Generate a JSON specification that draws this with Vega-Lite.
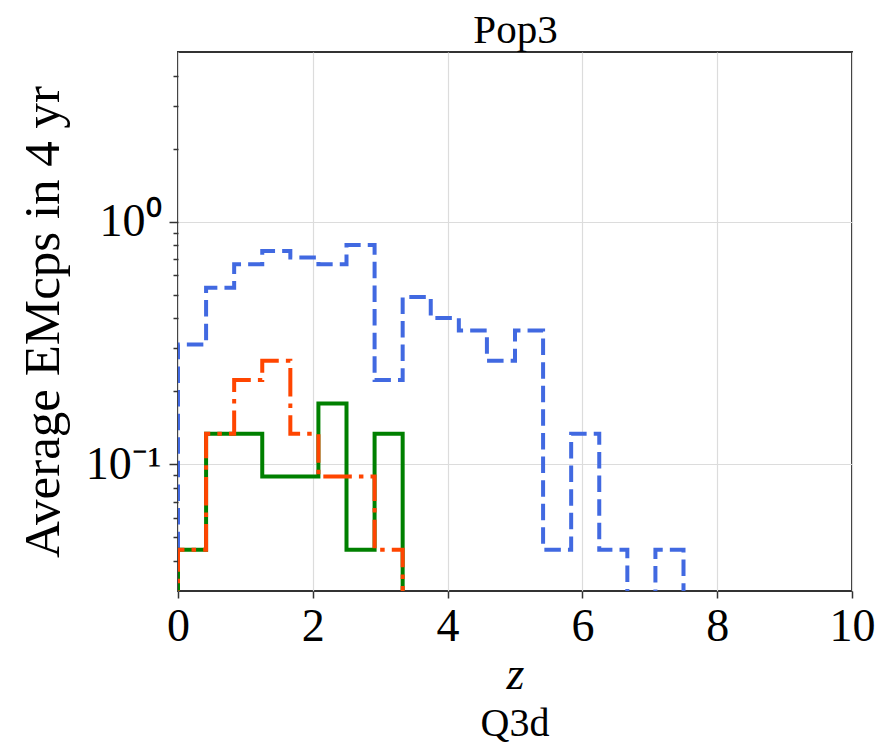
{
  "$schema": "https://vega.github.io/schema/vega-lite/v6.json",
  "width": 674,
  "height": 539,
  "autosize": {"type": "none"},
  "padding": {"left": 178, "top": 52, "right": 28, "bottom": 157},
  "background": "white",
  "title": {"text": "Q3d", "orient": "bottom", "fontSize": 40, "font": "Liberation Serif", "fontWeight": "normal", "color": "#000", "offset": 7},
  "datasets": {
    "hist": [
      {"series": "s1", "i": 0, "z": 0, "v": 0.001},
      {"series": "s1", "i": 1, "z": 0, "v": 0.3111},
      {"series": "s1", "i": 2, "z": 0.4167, "v": 0.5333},
      {"series": "s1", "i": 3, "z": 0.8333, "v": 0.6667},
      {"series": "s1", "i": 4, "z": 1.25, "v": 0.7556},
      {"series": "s1", "i": 5, "z": 1.6667, "v": 0.7111},
      {"series": "s1", "i": 6, "z": 2.0833, "v": 0.6667},
      {"series": "s1", "i": 7, "z": 2.5, "v": 0.8},
      {"series": "s1", "i": 8, "z": 2.9167, "v": 0.2222},
      {"series": "s1", "i": 9, "z": 3.3333, "v": 0.4889},
      {"series": "s1", "i": 10, "z": 3.75, "v": 0.4},
      {"series": "s1", "i": 11, "z": 4.1667, "v": 0.3556},
      {"series": "s1", "i": 12, "z": 4.5833, "v": 0.2667},
      {"series": "s1", "i": 13, "z": 5, "v": 0.3556},
      {"series": "s1", "i": 14, "z": 5.4167, "v": 0.0444},
      {"series": "s1", "i": 15, "z": 5.8333, "v": 0.1333},
      {"series": "s1", "i": 16, "z": 6.25, "v": 0.0444},
      {"series": "s1", "i": 17, "z": 6.6667, "v": 0.001},
      {"series": "s1", "i": 18, "z": 7.0833, "v": 0.0444},
      {"series": "s1", "i": 19, "z": 7.5, "v": 0.001},
      {"series": "s2", "i": 0, "z": 0, "v": 0.001},
      {"series": "s2", "i": 1, "z": 0, "v": 0.0444},
      {"series": "s2", "i": 2, "z": 0.4167, "v": 0.1333},
      {"series": "s2", "i": 3, "z": 0.8333, "v": 0.1333},
      {"series": "s2", "i": 4, "z": 1.25, "v": 0.0889},
      {"series": "s2", "i": 5, "z": 1.6667, "v": 0.0889},
      {"series": "s2", "i": 6, "z": 2.0833, "v": 0.1778},
      {"series": "s2", "i": 7, "z": 2.5, "v": 0.0444},
      {"series": "s2", "i": 8, "z": 2.9167, "v": 0.1333},
      {"series": "s2", "i": 9, "z": 3.3333, "v": 0.001},
      {"series": "s3", "i": 0, "z": 0, "v": 0.001},
      {"series": "s3", "i": 1, "z": 0, "v": 0.0444},
      {"series": "s3", "i": 2, "z": 0.4167, "v": 0.1333},
      {"series": "s3", "i": 3, "z": 0.8333, "v": 0.2222},
      {"series": "s3", "i": 4, "z": 1.25, "v": 0.2667},
      {"series": "s3", "i": 5, "z": 1.6667, "v": 0.1333},
      {"series": "s3", "i": 6, "z": 2.0833, "v": 0.0889},
      {"series": "s3", "i": 7, "z": 2.5, "v": 0.0889},
      {"series": "s3", "i": 8, "z": 2.9167, "v": 0.0444},
      {"series": "s3", "i": 9, "z": 3.3333, "v": 0.001}
    ]
  },
  "data": {"name": "hist"},
  "resolve": {"axis": {"x": "independent"}},
  "encoding": {
    "y": {
      "field": "v",
      "type": "quantitative",
      "scale": {"type": "log", "domain": [0.03, 5], "nice": false},
      "axis": {
        "orient": "left",
        "values": [0.04, 0.05, 0.06, 0.07, 0.08, 0.09, 0.1, 0.2, 0.3, 0.4, 0.5, 0.6, 0.7, 0.8, 0.9, 1, 2, 3, 4],
        "labelExpr": "datum.value == 1 ? '10⁰' : datum.value == 0.1 ? '10⁻¹' : ''",
        "labelFontSize": 46,
        "labelPadding": 8,
        "tickSize": {"condition": {"test": "datum.value == 1 || datum.value == 0.1", "value": 9}, "value": 5},
        "gridOpacity": {"condition": {"test": "datum.value == 1 || datum.value == 0.1", "value": 1}, "value": 0},
        "title": "Average EMcps in 4 yr",
        "titleFontSize": 51,
        "titleBaseline": "alphabetic",
        "titleX": -120
      }
    },
    "order": {"field": "i", "type": "quantitative"}
  },
  "layer": [
    {
      "transform": [{"filter": "datum.series == 's1'"}],
      "mark": {"type": "line", "interpolate": "step-after", "clip": true, "color": "#4169e1", "strokeWidth": 4, "strokeDash": [16.5, 7.1]},
      "encoding": {
        "x": {
          "field": "z",
          "type": "quantitative",
          "scale": {"domain": [0, 10], "nice": false, "zero": false},
          "axis": {
            "orient": "bottom",
            "values": [0, 2, 4, 6, 8, 10],
            "format": "d",
            "labelFontSize": 46,
            "tickSize": 7,
            "labelPadding": 6,
            "title": "z",
            "titleFontStyle": "italic",
            "titleFontSize": 46,
            "titleBaseline": "alphabetic",
            "titleY": 97
          }
        }
      }
    },
    {
      "transform": [{"filter": "datum.series == 's2'"}],
      "mark": {"type": "line", "interpolate": "step-after", "clip": true, "color": "#008000", "strokeWidth": 4},
      "encoding": {
        "x": {
          "field": "z",
          "type": "quantitative",
          "scale": {"domain": [0, 10], "nice": false, "zero": false},
          "axis": {
            "orient": "top",
            "labels": false,
            "ticks": false,
            "grid": false,
            "domain": false,
            "title": "Pop3",
            "titleFontSize": 41,
            "titleBaseline": "alphabetic",
            "titleY": -10
          }
        }
      }
    },
    {
      "transform": [{"filter": "datum.series == 's3'"}],
      "mark": {"type": "line", "interpolate": "step-after", "clip": true, "color": "#ff4500", "strokeWidth": 4, "strokeDash": [28.5, 7.1, 4.5, 7.1]},
      "encoding": {
        "x": {
          "field": "z",
          "type": "quantitative",
          "scale": {"domain": [0, 10], "nice": false, "zero": false},
          "axis": null
        }
      }
    }
  ],
  "config": {
    "view": {"stroke": "#333", "strokeWidth": 2},
    "axis": {
      "labelFont": "Liberation Serif",
      "titleFont": "Liberation Serif",
      "labelColor": "#000",
      "titleColor": "#000",
      "titleFontWeight": "normal",
      "tickColor": "#333",
      "tickWidth": 1.5,
      "gridColor": "#dcdcdc",
      "gridWidth": 1.2,
      "domain": false,
      "labelFlush": false,
      "labelOverlap": false
    }
  }
}
